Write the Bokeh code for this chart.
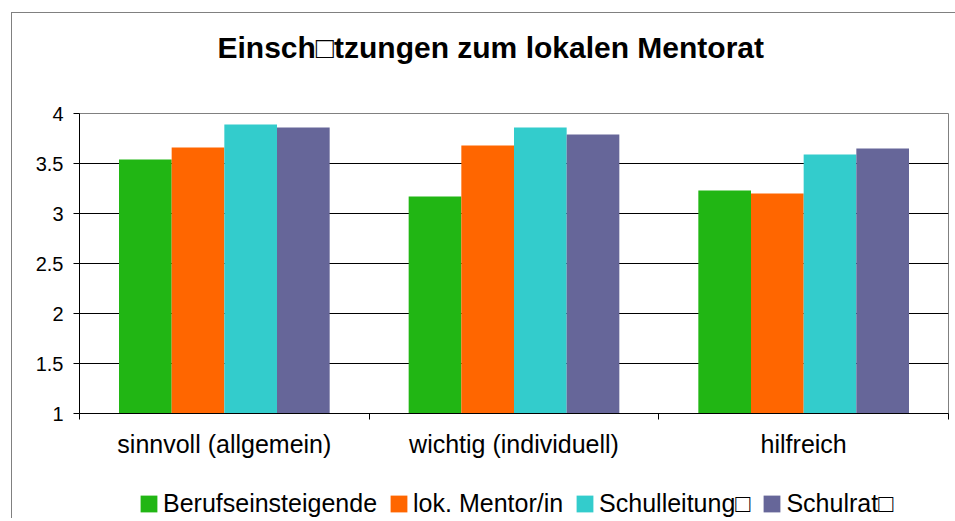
from bokeh.plotting import figure
from bokeh.models import (Range1d, FixedTicker, Legend, LegendItem, ColumnDataSource, Label)
from bokeh.layouts import column
from bokeh.transform import dodge
from bokeh.embed import file_html
from bokeh.resources import INLINE

# ---- data ----
title_text = "Einsch\u25a1tzungen zum lokalen Mentorat"
categories = ["sinnvoll (allgemein)", "wichtig (individuell)", "hilfreich"]
series_names = ["Berufseinsteigende", "lok. Mentor/in", "Schulleitung\u25a1", "Schulrat\u25a1"]
berufseinsteigende = [3.54, 3.17, 3.23]
lok_mentor = [3.66, 3.68, 3.20]
schulleitung = [3.89, 3.86, 3.59]
schulrat = [3.86, 3.79, 3.65]
y_ticks = [1, 1.5, 2, 2.5, 3, 3.5, 4]
y_tick_labels = ["1", "1.5", "2", "2.5", "3", "3.5", "4"]
colors = ["#21B614", "#FF6600", "#33CCCC", "#666699"]

FONT = "Liberation Sans"
W = 943

centers = [i + 0.5 for i in range(len(categories))]
source = ColumnDataSource(data=dict(
    x=centers, s0=berufseinsteigende, s1=lok_mentor, s2=schulleitung, s3=schulrat))
cols = ["s0", "s1", "s2", "s3"]
bw = 1 / 5.5


def bare(fig):
    fig.outline_line_color = None
    fig.xgrid.visible = False
    fig.ygrid.visible = False
    fig.border_fill_color = "white"
    fig.background_fill_color = "white"
    fig.title.visible = False


# ---- title strip ----
tf = figure(width=W, height=85, output_backend="svg", toolbar_location=None,
            x_range=Range1d(0, 869), y_range=Range1d(0, 85),
            x_axis_location=None, y_axis_location=None,
            min_border_left=0, min_border_right=0, min_border_top=0, min_border_bottom=0)
bare(tf)
tf.add_layout(Label(x=138, y=51, text=title_text, text_font=FONT, text_font_size="30px",
                    text_font_style="bold", text_color="black", text_align="left",
                    text_baseline="alphabetic"))

# ---- main chart ----
p = figure(width=W, height=362, output_backend="svg", toolbar_location=None,
           x_range=Range1d(0, len(categories)), y_range=Range1d(1, 4),
           min_border_left=67, min_border_right=7, min_border_top=15, min_border_bottom=47)
p.title.visible = False

for j, col in enumerate(cols):
    p.vbar(x=dodge("x", (j - 1.5) * bw), top=col, bottom=1, width=bw, source=source,
           fill_color=colors[j], line_color=None)

p.outline_line_color = "#808080"
p.background_fill_color = "white"
p.border_fill_color = "white"

# y axis
p.yaxis.ticker = FixedTicker(ticks=y_ticks)
p.yaxis.major_label_overrides = {t: l for t, l in zip(y_ticks, y_tick_labels)}
p.yaxis.major_label_text_font = FONT
p.yaxis.major_label_text_font_size = "20px"
p.yaxis.major_label_text_color = "black"
p.yaxis.axis_line_color = "black"
p.yaxis.major_tick_line_color = "black"
p.yaxis.major_tick_out = 6
p.yaxis.major_tick_in = 0
p.yaxis.minor_tick_line_color = None
p.yaxis.major_label_standoff = 10

# x axis
p.xaxis.ticker = FixedTicker(ticks=centers, minor_ticks=list(range(len(categories) + 1)))
p.xaxis.major_label_overrides = {c: l for c, l in zip(centers, categories)}
p.xaxis.major_label_text_font = FONT
p.xaxis.major_label_text_font_size = "25px"
p.xaxis.major_label_text_color = "black"
p.xaxis.axis_line_color = "black"
p.xaxis.major_tick_line_color = None
p.xaxis.major_tick_out = 0
p.xaxis.major_tick_in = 0
p.xaxis.minor_tick_line_color = "black"
p.xaxis.minor_tick_out = 6
p.xaxis.minor_tick_in = 0
p.xaxis.major_label_standoff = 10

p.xgrid.visible = False
p.ygrid.ticker = FixedTicker(ticks=y_ticks)
p.ygrid.grid_line_color = "black"

# ---- legend strip ----
lf = figure(width=W, height=58, output_backend="svg", toolbar_location=None,
            x_range=Range1d(0, 1), y_range=Range1d(0, 1),
            x_axis_location=None, y_axis_location=None,
            min_border_left=0, min_border_right=0, min_border_top=0, min_border_bottom=0)
bare(lf)
# same bars, outside this strip's visible range: they only carry the legend swatches
legend_renderers = [lf.vbar(x="x", top=col, bottom=1, width=bw, source=source,
                            fill_color=colors[j], line_color=None)
                    for j, col in enumerate(cols)]

legend = Legend(items=[LegendItem(label=n, renderers=[r]) for n, r in zip(series_names, legend_renderers)],
                orientation="horizontal", location=(59, 0),
                border_line_color=None, background_fill_alpha=0,
                label_text_font=FONT, label_text_font_size="25px", label_text_color="black",
                glyph_width=21, glyph_height=21, label_standoff=4, spacing=11,
                padding=0, margin=0)
lf.add_layout(legend)

layout = column(tf, p, lf, spacing=0,
                styles={"margin-left": "11px", "margin-top": "12px",
                        "border-left": "1px solid #808080", "border-top": "1px solid #808080",
                        "border-right": "0px none", "border-bottom": "0px none"})

open("out.html", "w").write(file_html(layout, INLINE))
